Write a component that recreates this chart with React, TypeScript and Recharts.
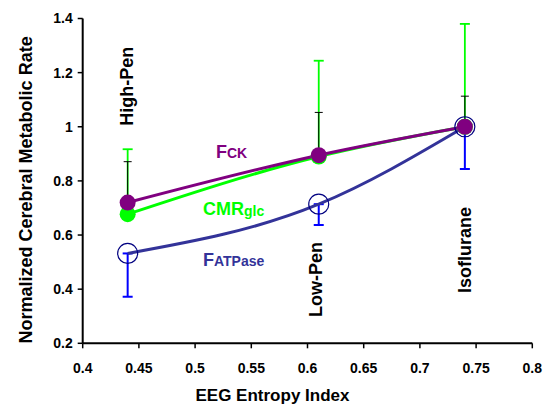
import React from 'react';
import { LineChart, Line, XAxis, YAxis, ErrorBar, ReferenceDot } from 'recharts';

// ---- data ----
const entropyIndex = [0.44, 0.61, 0.74];
const phaseNames = ['High-Pen', 'Low-Pen', 'Isoflurane'];
const fckValues = [0.72, 0.895, 1.0];
const fckUpper = [0.871, 1.053, 1.113];
const cmrValues = [0.677, 0.89, 1.0];
const cmrUpper = [0.917, 1.244, 1.38];
const fatValues = [0.532, 0.714, 1.0];
const fatLower = [0.372, 0.637, 0.844];
const xTicks = [0.4, 0.45, 0.5, 0.55, 0.6, 0.65, 0.7, 0.75, 0.8];
const yTicks = [0.2, 0.4, 0.6, 0.8, 1, 1.2, 1.4];

const rows = entropyIndex.map((x, i) => ({
  x,
  fck: fckValues[i],
  cmr: cmrValues[i],
  fat: fatValues[i],
  fckErr: [0, fckUpper[i] - fckValues[i]],
  cmrErr: [0, cmrUpper[i] - cmrValues[i]],
  fatErr: [fatValues[i] - fatLower[i], 0],
}));

// annotation anchor positions (data coordinates)
const phaseLabelY = [1.15, 0.436, 0.545];
const phaseLabelDy = [5, 3, 6];

const FONT = '"Liberation Sans", Arial, Helvetica, sans-serif';
const PURPLE = '#800080';
const GREEN = '#00FF00';
const NAVY = '#333399';

const tickStyle = { fill: '#000', fontSize: 14, fontWeight: 'bold', fontFamily: FONT };

const css = `
.fck-line .recharts-errorBar line:nth-of-type(3),
.cmr-line .recharts-errorBar line:nth-of-type(3),
.fat-line .recharts-errorBar line:nth-of-type(1) { display: none; }
`;

export default function App() {
  return (
    <div style={{ position: 'absolute', left: 0, top: 0, width: 554, height: 405, background: '#fff' }}>
      <style>{css}</style>
      <LineChart
        width={554}
        height={405}
        data={rows}
        margin={{ top: 18.5, right: 21.7, bottom: 21.7, left: 0 }}
      >
        <XAxis
          dataKey="x"
          type="number"
          domain={[0.4, 0.8]}
          ticks={xTicks}
          interval={0}
          height={40}
          tickSize={5}
          tickMargin={15}
          tick={tickStyle}
          axisLine={{ stroke: '#000', strokeWidth: 2 }}
          tickLine={{ stroke: '#000', strokeWidth: 1.5 }}
          label={{
            content: (p: any) => {
              const vb = p.viewBox;
              return (
                <text
                  x={vb.x + vb.width / 2 - 35}
                  y={vb.y + 57.4}
                  textAnchor="middle"
                  fontFamily={FONT}
                  fontWeight="bold"
                  fontSize={17}
                  fill="#000"
                >
                  EEG Entropy Index
                </text>
              );
            },
          }}
        />
        <YAxis
          type="number"
          domain={[0.2, 1.4]}
          ticks={yTicks}
          interval={0}
          width={82.7}
          tickSize={5}
          tickMargin={5}
          tick={tickStyle}
          axisLine={{ stroke: '#000', strokeWidth: 2 }}
          tickLine={{ stroke: '#000', strokeWidth: 1.5 }}
          label={{
            content: (p: any) => {
              const vb = p.viewBox;
              const cx = vb.x + 32.5;
              const cy = vb.y + vb.height / 2 + 9;
              return (
                <text
                  x={cx}
                  y={cy}
                  transform={`rotate(-90, ${cx}, ${cy})`}
                  textAnchor="middle"
                  fontFamily={FONT}
                  fontWeight="bold"
                  fontSize={18}
                  fill="#000"
                >
                  Normalized Cerebral Metabolic Rate
                </text>
              );
            },
          }}
        />

        <Line
          className="fat-line"
          type="monotone"
          dataKey="fat"
          stroke={NAVY}
          strokeWidth={3}
          dot={{ r: 10, fill: 'none', stroke: '#000080', strokeWidth: 1.2 }}
          activeDot={false}
          isAnimationActive={false}
        >
          <ErrorBar dataKey="fatErr" direction="y" width={5} stroke="#0000FF" strokeWidth={2} isAnimationActive={false} />
        </Line>
        <Line
          className="cmr-line"
          type="monotone"
          dataKey="cmr"
          stroke={GREEN}
          strokeWidth={3}
          dot={{ r: 8, fill: GREEN, stroke: GREEN, strokeWidth: 0 }}
          activeDot={false}
          isAnimationActive={false}
        >
          <ErrorBar dataKey="cmrErr" direction="y" width={5} stroke={GREEN} strokeWidth={1.8} isAnimationActive={false} />
        </Line>
        <Line
          className="fck-line"
          type="monotone"
          dataKey="fck"
          stroke={PURPLE}
          strokeWidth={3}
          dot={{ r: 8, fill: PURPLE, stroke: PURPLE, strokeWidth: 0 }}
          activeDot={false}
          isAnimationActive={false}
        >
          <ErrorBar dataKey="fckErr" direction="y" width={4} stroke="#000" strokeWidth={1} isAnimationActive={false} />
        </Line>

        {entropyIndex.map((x, i) => (
          <ReferenceDot
            key={phaseNames[i]}
            x={x}
            y={phaseLabelY[i]}
            r={0}
            fill="none"
            stroke="none"
            ifOverflow="visible"
            label={{
              content: (p: any) => {
                const vb = p.viewBox;
                return (
                  <text
                    x={vb.x}
                    y={vb.y}
                    dy={phaseLabelDy[i]}
                    transform={`rotate(-90, ${vb.x}, ${vb.y})`}
                    textAnchor="middle"
                    fontFamily={FONT}
                    fontWeight="bold"
                    fontSize={18}
                    fill="#000"
                  >
                    {phaseNames[i]}
                  </text>
                );
              },
            }}
          />
        ))}

        <ReferenceDot
          x={0.5186}
          y={0.8846}
          r={0}
          fill="none"
          stroke="none"
          ifOverflow="visible"
          label={{
            content: (p: any) => (
              <text x={p.viewBox.x} y={p.viewBox.y} fontFamily={FONT} fontWeight="bold" fill={PURPLE}>
                <tspan fontSize={18}>F</tspan>
                <tspan fontSize={14}>CK</tspan>
              </text>
            ),
          }}
        />
        <ReferenceDot
          x={0.507}
          y={0.674}
          r={0}
          fill="none"
          stroke="none"
          ifOverflow="visible"
          label={{
            content: (p: any) => (
              <text x={p.viewBox.x} y={p.viewBox.y} fontFamily={FONT} fontWeight="bold" fill={GREEN}>
                <tspan fontSize={18}>CMR</tspan>
                <tspan fontSize={14} dy={1}>glc</tspan>
              </text>
            ),
          }}
        />
        <ReferenceDot
          x={0.507}
          y={0.4856}
          r={0}
          fill="none"
          stroke="none"
          ifOverflow="visible"
          label={{
            content: (p: any) => (
              <text x={p.viewBox.x} y={p.viewBox.y} fontFamily={FONT} fontWeight="bold" fill={NAVY}>
                <tspan fontSize={18}>F</tspan>
                <tspan fontSize={14}>ATPase</tspan>
              </text>
            ),
          }}
        />
      </LineChart>
    </div>
  );
}
